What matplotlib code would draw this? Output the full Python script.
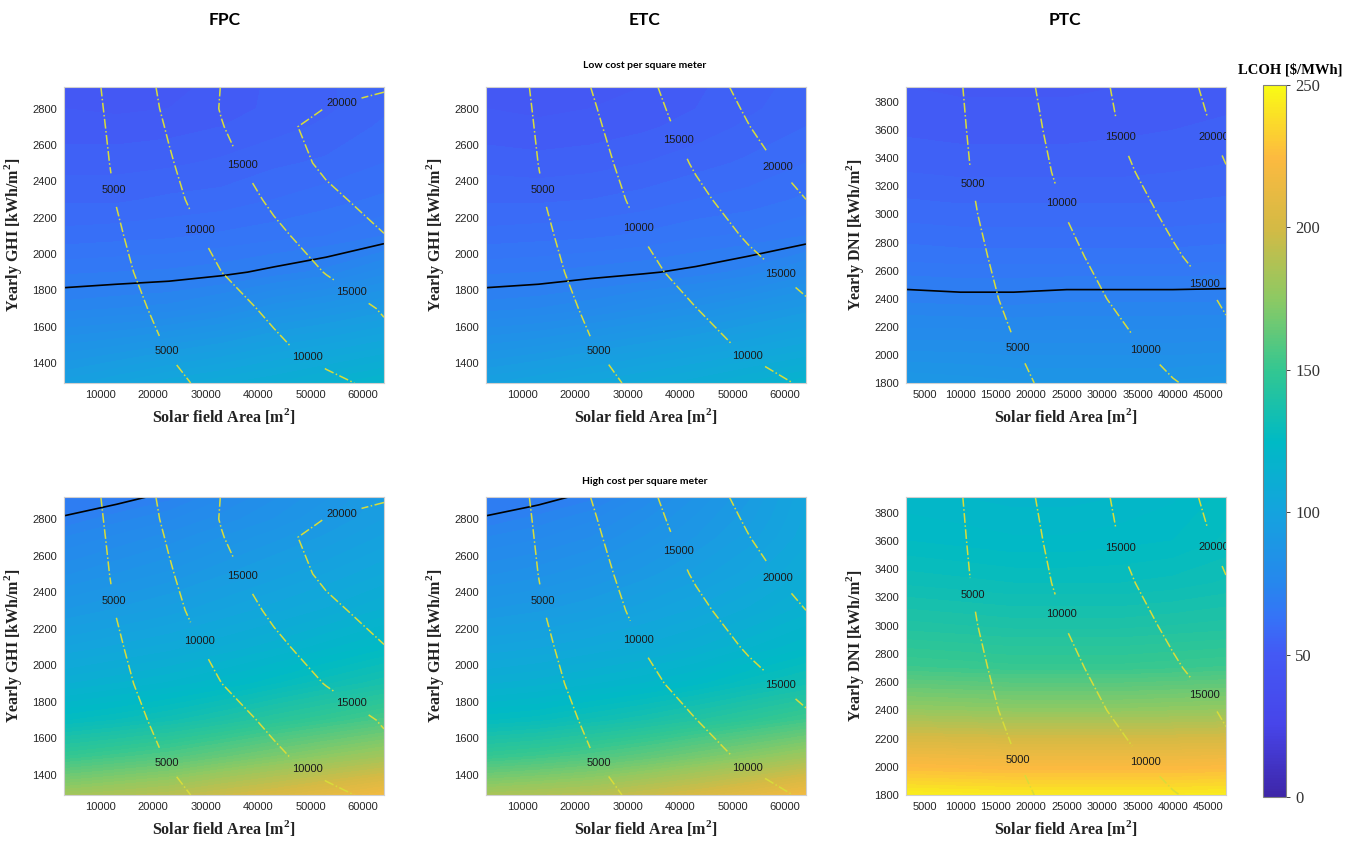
import numpy as np
import matplotlib.pyplot as plt
from matplotlib.colors import LinearSegmentedColormap, Normalize
from matplotlib.cm import ScalarMappable

plt.rcParams['mathtext.fontset'] = 'custom'
plt.rcParams['mathtext.rm'] = 'Liberation Serif'
plt.rcParams['mathtext.bf'] = 'Liberation Serif:bold'

# ---- grids ----
# FPC / ETC: solar field area [m2] and yearly GHI [kWh/m2]
flat_area = [3000, 13000, 23000, 33000, 43000, 53000, 64000]
flat_ghi = [1290, 1500, 1700, 1900, 2100, 2300, 2500, 2700, 2800, 2920]

# PTC: solar field area [m2] and yearly DNI [kWh/m2]
ptc_area = [2300, 10000, 17500, 25000, 32500, 40000, 47500]
ptc_dni = [1800, 2100, 2400, 2700, 3000, 3300, 3600, 3910]

# yearly heat produced (dash-dot iso lines), rows = irradiation, cols = area
fpc_energy = [
    [560, 2430, 4300, 5990, 7570, 9150, 10900],
    [690, 2980, 5250, 7310, 9360, 11540, 14000],
    [800, 3490, 6040, 8440, 10770, 12950, 15320],
    [930, 4020, 7020, 9980, 12570, 15160, 17600],
    [1040, 4520, 7980, 11210, 14120, 16890, 19870],
    [1180, 5130, 8920, 12400, 15730, 18970, 21800],
    [1300, 5570, 9600, 13630, 17360, 20930, 21800],
    [1390, 5960, 10380, 14810, 18380, 21900, 22000],
    [1440, 6190, 10820, 15220, 17670, 20110, 20600],
    [1500, 6480, 11160, 15080, 16600, 18120, 19800],
]
etc_energy = [
    [530, 2280, 4030, 5670, 7190, 8710, 10380],
    [640, 2750, 4870, 6780, 8680, 10570, 12660],
    [730, 3180, 5570, 7760, 9950, 12070, 14400],
    [840, 3640, 6370, 9030, 11450, 13740, 16210],
    [940, 4090, 7120, 10090, 12760, 15410, 18160],
    [1070, 4630, 7900, 11070, 14110, 16960, 20000],
    [1160, 5030, 8490, 11990, 15440, 18480, 21800],
    [1240, 5350, 9150, 12990, 16580, 19880, 23400],
    [1280, 5530, 9530, 13450, 17080, 20510, 24140],
    [1340, 5770, 10030, 13970, 17720, 21290, 25030],
]
ptc_energy = [
    [560, 2450, 4290, 6120, 7950, 9780, 11520],
    [650, 2840, 4970, 7090, 9220, 11670, 14300],
    [750, 3250, 5690, 8150, 10600, 13030, 15440],
    [830, 3600, 6330, 9090, 11810, 14520, 17100],
    [920, 4010, 7050, 10100, 12980, 15800, 18500],
    [1010, 4380, 7660, 10930, 14150, 17040, 19820],
    [1060, 4610, 8060, 11570, 15110, 17970, 20780],
    [1110, 4840, 8510, 12150, 15640, 18640, 21470],
]

# LCOH [$/MWh]
fpc_lcoh_low = [
    [96, 100, 104, 107, 110, 114, 118],
    [85, 87, 90, 93, 97, 100, 104],
    [74, 75, 76, 79, 84, 87, 91],
    [67, 67.5, 68, 69, 71, 73.5, 79],
    [61, 61.5, 62, 63, 64, 65, 67.5],
    [57, 57, 58, 58.5, 60, 61.5, 63],
    [54, 54, 54.5, 55.5, 57, 58, 60],
    [51, 51, 51.5, 52.5, 54, 55.5, 58],
    [50, 49.5, 50, 51.5, 53, 54.5, 57],
    [49, 48.5, 49, 51, 53, 54.5, 57],
]
etc_lcoh_low = [
    [97, 100, 103, 106, 109, 113, 117],
    [85, 87, 90, 93, 96, 99, 103],
    [74, 75, 77, 80, 83, 87, 91],
    [67, 67.5, 68.5, 69.5, 71, 73.5, 78.5],
    [61, 61.5, 62, 63, 64.5, 65.5, 67.5],
    [57, 57, 57.5, 58.5, 60, 61, 63],
    [54, 53.5, 54, 55, 56.5, 58, 60],
    [51, 50.5, 51, 52, 53.5, 55.5, 57.5],
    [50, 49.5, 50, 51, 52.5, 54.5, 56.5],
    [49.5, 49, 49, 50, 52, 54, 56],
]
ptc_lcoh_low = [
    [90, 89, 88, 88, 88, 88, 89],
    [80, 80, 79.5, 79.5, 79.5, 79.5, 80],
    [71.7, 71.2, 71.2, 71.8, 71.8, 71.8, 71.9],
    [64, 63.5, 63.5, 63.5, 63.5, 63.5, 64],
    [59, 58.5, 58.5, 58.5, 58.5, 58.5, 59],
    [55, 54.5, 54.5, 54.5, 54.5, 55, 55.5],
    [52, 51.5, 51.5, 51.5, 52, 52.5, 53],
    [50, 49.5, 49.5, 49.5, 50, 50.5, 51.5],
]
fpc_lcoh_high = [
    [182, 186, 190, 197, 203, 210, 218],
    [150, 154, 158, 164, 170, 176, 182],
    [127, 130, 134, 139, 145, 150, 156],
    [112, 115, 118, 122, 127, 132, 137],
    [100, 103, 106, 110, 114, 119, 124],
    [90, 93, 96, 100, 104, 108, 113],
    [82, 85, 88, 92, 96, 100, 105],
    [75, 78, 81, 85, 89, 93, 98],
    [70.5, 74, 77, 81, 85, 90, 95],
    [67, 68, 71.5, 77, 82, 87, 93],
]
etc_lcoh_high = [
    [184, 187, 190, 196, 202, 209, 218],
    [150, 153, 157, 162, 168, 174, 181],
    [127, 129, 133, 137, 142, 147, 153],
    [112, 114, 117, 120, 124, 129, 134],
    [100, 102, 105, 108, 112, 117, 122],
    [90, 92, 95, 99, 103, 108, 114],
    [82, 84, 87, 91, 96, 101, 108],
    [75, 77, 80, 85, 90, 96, 104],
    [70.5, 73.5, 77, 82, 88, 94, 103],
    [67, 68, 71.5, 78, 85, 92, 102],
]
ptc_lcoh_high = [
    [245, 244, 243, 243, 243, 243, 244],
    [214, 213, 212, 212, 212, 212, 213],
    [178, 177, 176, 176, 176, 177, 178],
    [153, 152, 151, 151, 151, 152, 153],
    [141, 140, 139, 139, 139, 140, 141],
    [132, 131, 130, 130, 130, 131, 133],
    [125, 124, 123, 123, 124, 125, 128],
    [121, 120, 119, 119, 120, 122, 126],
]

energy_levels = [5000, 10000, 15000, 20000]
ref_lcoh = 70  # black iso line

# label spots for the dash-dot lines
fpc_label_pos = [(12230, 2350), (22360, 1461), (28070, 2124), (49300, 1425),
                 (36620, 2481), (57530, 1778), (55820, 2840)]
etc_label_pos = [(13750, 2350), (24200, 1461), (31680, 2135), (52720, 1434),
                 (39280, 2620), (58750, 1879), (58290, 2469)]
ptc_label_pos = [(11600, 3216), (17960, 2047), (24080, 3079), (36100, 2035),
                 (32460, 3549), (44250, 2498), (45520, 3549)]

# parula-like colour map
parula = LinearSegmentedColormap.from_list('parula', [
    (0.00, (0.243, 0.150, 0.660)),
    (0.10, (0.278, 0.270, 0.915)),
    (0.20, (0.265, 0.350, 0.960)),
    (0.25, (0.210, 0.450, 0.970)),
    (0.30, (0.150, 0.530, 0.930)),
    (0.40, (0.080, 0.640, 0.870)),
    (0.50, (0.000, 0.730, 0.770)),
    (0.60, (0.200, 0.780, 0.570)),
    (0.70, (0.550, 0.790, 0.390)),
    (0.80, (0.830, 0.730, 0.270)),
    (0.90, (0.990, 0.730, 0.250)),
    (1.00, (0.976, 0.983, 0.080)),
], N=256)

fig = plt.figure(figsize=(13.46, 8.43), dpi=100)
W, H = 1346, 843

col_left = [64, 486, 906]
row_span = [(86.7, 383), (497, 795)]
ax_w = 320

panels = [
    (0, 0, flat_area, flat_ghi, fpc_lcoh_low, fpc_energy, fpc_label_pos, 'GHI'),
    (0, 1, flat_area, flat_ghi, etc_lcoh_low, etc_energy, etc_label_pos, 'GHI'),
    (0, 2, ptc_area, ptc_dni, ptc_lcoh_low, ptc_energy, ptc_label_pos, 'DNI'),
    (1, 0, flat_area, flat_ghi, fpc_lcoh_high, fpc_energy, fpc_label_pos, 'GHI'),
    (1, 1, flat_area, flat_ghi, etc_lcoh_high, etc_energy, etc_label_pos, 'GHI'),
    (1, 2, ptc_area, ptc_dni, ptc_lcoh_high, ptc_energy, ptc_label_pos, 'DNI'),
]

fill_levels = np.linspace(0, 250, 101)
tick_col = '#262626'

for r, c, xs, ys, lcoh, energy, lab_pos, irr in panels:
    top, bot = row_span[r]
    ax = fig.add_axes([col_left[c] / W, 1 - bot / H, ax_w / W, (bot - top) / H])
    z = np.array(lcoh)
    e = np.array(energy)
    ax.contourf(xs, ys, z, levels=fill_levels, cmap=parula, vmin=0, vmax=250)
    ax.contour(xs, ys, z, levels=[ref_lcoh], colors='k', linewidths=1.2)
    cs = ax.contour(xs, ys, e, levels=energy_levels, colors='#d8dc3a',
                    linestyles='-.', linewidths=1.1)
    labels = ax.clabel(cs, fmt='%d', manual=lab_pos, fontsize=8, colors='#1a1a1a',
                       inline=True, inline_spacing=3)
    for t in labels:
        t.set_rotation(0)
        t.set_fontfamily('Liberation Sans')

    ax.set_xlim(xs[0], xs[-1])
    ax.set_ylim(ys[0], ys[-1])
    if irr == 'GHI':
        ax.set_xticks(range(10000, 60001, 10000))
        ax.set_yticks(range(1400, 2801, 200))
    else:
        ax.set_xticks(range(5000, 45001, 5000))
        ax.set_yticks(range(1800, 3801, 200))
    ax.tick_params(length=0, labelsize=8, labelcolor=tick_col, pad=5)
    for lb in ax.get_xticklabels() + ax.get_yticklabels():
        lb.set_fontfamily('Liberation Sans')
    for sp in ax.spines.values():
        sp.set_color('#d0d0d0')
        sp.set_linewidth(0.8)
    ax.set_xlabel(r'Solar field Area [m$^{\mathbf{2}}$]', fontfamily='Liberation Serif',
                  fontweight='bold', fontsize=11.5, color='#222222', labelpad=4)
    ax.set_ylabel('Yearly ' + irr + r' [kWh/m$^{\mathbf{2}}$]', fontfamily='Liberation Serif',
                  fontweight='bold', fontsize=11.5, color='#222222', labelpad=6)

# colour bar
cax = fig.add_axes([1263 / W, 1 - 797 / H, 23 / W, 712 / H])
sm = ScalarMappable(norm=Normalize(0, 250), cmap=parula)
cb = fig.colorbar(sm, cax=cax, ticks=range(0, 251, 50))
cb.outline.set_edgecolor('#808080')
cb.outline.set_linewidth(0.8)
cax.tick_params(length=3, width=0.7, color='#404040', labelsize=12, labelcolor='#333333')
for lb in cax.get_yticklabels():
    lb.set_fontfamily('Liberation Serif')
fig.text(1290 / W, 1 - 70 / H, 'LCOH [\\$/MWh]', ha='center', va='center',
         fontfamily='Liberation Serif', fontweight='bold', fontsize=10.5)

# titles
for name, xc in zip(['FPC', 'ETC', 'PTC'], [225, 645, 1065]):
    fig.text(xc / W, 1 - 20 / H, name, ha='center', va='center',
             fontfamily='Lato', fontweight='bold', fontsize=12.5)
fig.text(645 / W, 1 - 65 / H, 'Low cost per square meter', ha='center', va='center',
         fontfamily='Lato', fontweight='bold', fontsize=7.5)
fig.text(645 / W, 1 - 481 / H, 'High cost per square meter', ha='center', va='center',
         fontfamily='Lato', fontweight='bold', fontsize=7.5)

fig.savefig('out.png', dpi=100, facecolor='white')
